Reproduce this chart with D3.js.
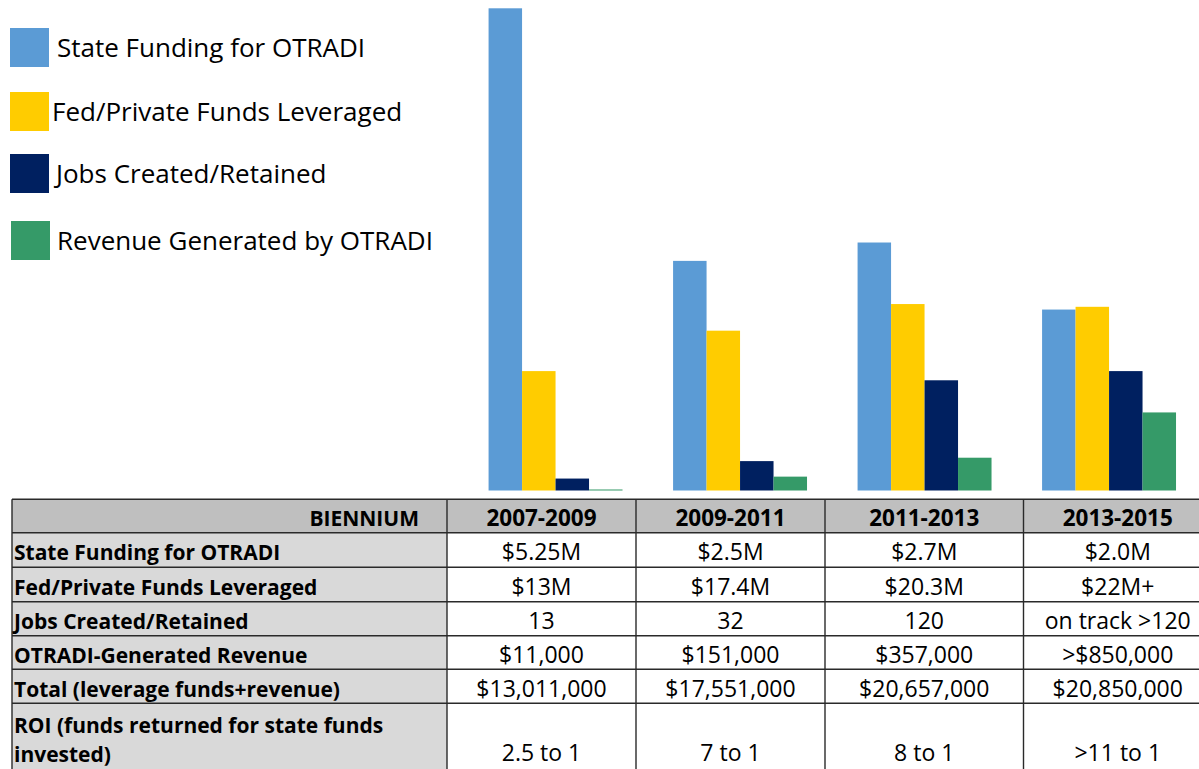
<!DOCTYPE html>
<html>
<head>
<meta charset="utf-8">
<script src="https://cdn.jsdelivr.net/npm/d3@7"></script>
<style>
  html, body { margin: 0; padding: 0; background: #fff; }
  svg { display: block; }
  text { font-family: "Open Sans", "Noto Sans", sans-serif; }
</style>
</head>
<body>
<svg id="chart" width="1199" height="769"></svg>
<script>
// ---- data ----
const bienniums = ["2007-2009", "2009-2011", "2011-2013", "2013-2015"];
const seriesNames = ["State Funding for OTRADI", "Fed/Private Funds Leveraged", "Jobs Created/Retained", "Revenue Generated by OTRADI"];
const seriesColors = ["#5B9BD5", "#FFCC00", "#002060", "#359A68"];
// bar heights in chart units
const stateFunding = [5.25, 2.5, 2.7, 1.97];
const fedPrivate   = [1.3, 1.74, 2.03, 2.0];
const jobs         = [0.13, 0.32, 1.2, 1.3];
const revenue      = [0.011, 0.151, 0.357, 0.85];

// table
const tableHeader = "BIENNIUM";
const rowLabels = ["State Funding for OTRADI", "Fed/Private Funds Leveraged", "Jobs Created/Retained",
                   "OTRADI-Generated Revenue", "Total (leverage funds+revenue)",
                   ["ROI (funds returned for state funds", "invested)"]];
const rowValues = [
  ["$5.25M", "$2.5M", "$2.7M", "$2.0M"],
  ["$13M", "$17.4M", "$20.3M", "$22M+"],
  ["13", "32", "120", "on track >120"],
  ["$11,000", "$151,000", "$357,000", ">$850,000"],
  ["$13,011,000", "$17,551,000", "$20,657,000", "$20,850,000"],
  ["2.5 to 1", "7 to 1", "8 to 1", ">11 to 1"]
];

const seriesData = [stateFunding, fedPrivate, jobs, revenue];

const svg = d3.select("#chart");

// ---- bars ----
const x0 = d3.scaleBand().domain(bienniums).range([463.3, 1201.3]).paddingInner(0.274).paddingOuter(0.137);
const x1 = d3.scaleBand().domain(d3.range(seriesNames.length)).range([0, x0.bandwidth()]).padding(0);
const y = d3.scaleLinear().domain([0, 5.25]).range([490.5, 8.3]);

const groups = svg.append("g").selectAll("g")
  .data(bienniums).join("g")
  .attr("transform", d => `translate(${x0(d)},0)`);

groups.selectAll("rect")
  .data((d, i) => seriesData.map((s, k) => ({k, v: s[i]})))
  .join("rect")
  .attr("x", d => x1(d.k))
  .attr("width", x1.bandwidth())
  .attr("y", d => y(d.v))
  .attr("height", d => y(0) - y(d.v))
  .attr("fill", d => seriesColors[d.k]);

// ---- legend ----
const legendY = [28, 92, 154, 221];
const legendTextX = [57, 52, 56, 57];
const legend = svg.append("g");
seriesNames.forEach((name, i) => {
  legend.append("rect").attr("x", i === 3 ? 11 : 10).attr("y", legendY[i]).attr("width", 39).attr("height", 39).attr("fill", seriesColors[i]);
  legend.append("text").attr("x", legendTextX[i]).attr("y", legendY[i] + 28.7)
    .attr("font-size", 26).attr("fill", "#000").text(name);
});

// ---- table ----
const colX = [12, 447, 636, 825, 1023.5, 1212];
const rowY = [499.3, 532.7, 567.3, 601.7, 635.7, 669.3, 703.3, 790];
const table = svg.append("g");

// backgrounds
table.append("rect").attr("x", colX[0]).attr("y", rowY[0]).attr("width", colX[5] - colX[0]).attr("height", rowY[1] - rowY[0]).attr("fill", "#BFBFBF");
table.append("rect").attr("x", colX[0]).attr("y", rowY[1]).attr("width", colX[1] - colX[0]).attr("height", rowY[7] - rowY[1]).attr("fill", "#D9D9D9");

// grid lines
rowY.slice(0, 7).forEach(yy => {
  table.append("line").attr("x1", colX[0]).attr("x2", colX[5]).attr("y1", yy).attr("y2", yy)
    .attr("stroke", "#2a2a2a").attr("stroke-width", 1.4);
});
colX.slice(0, 5).forEach(xx => {
  table.append("line").attr("x1", xx).attr("x2", xx).attr("y1", rowY[0]).attr("y2", rowY[7])
    .attr("stroke", "#2a2a2a").attr("stroke-width", 1.4);
});

const fsLabel = 21;
const fsHead = 22.5;
const fsVal = 23;
// header
table.append("text").attr("x", colX[1] - 28).attr("y", rowY[0] + 26.5).attr("text-anchor", "end")
  .attr("font-weight", "bold").attr("font-size", fsLabel).text(tableHeader);
bienniums.forEach((b, j) => {
  table.append("text").attr("x", (colX[j + 1] + colX[j + 2]) / 2).attr("y", rowY[0] + 26.5)
    .attr("text-anchor", "middle").attr("font-weight", "bold").attr("font-size", fsHead).text(b);
});
// rows
rowLabels.forEach((lab, r) => {
  const base = rowY[r + 1] + 27.5;
  if (Array.isArray(lab)) {
    lab.forEach((l, li) => {
      table.append("text").attr("x", 14).attr("y", rowY[r + 1] + 29.5 + li * 29.5)
        .attr("font-weight", "bold").attr("font-size", fsLabel).text(l);
    });
    rowValues[r].forEach((v, j) => {
      table.append("text").attr("x", (colX[j + 1] + colX[j + 2]) / 2).attr("y", rowY[r + 1] + 58)
        .attr("text-anchor", "middle").attr("font-size", fsVal).text(v);
    });
  } else {
    table.append("text").attr("x", 14).attr("y", base)
      .attr("font-weight", "bold").attr("font-size", fsLabel).text(lab);
    rowValues[r].forEach((v, j) => {
      table.append("text").attr("x", (colX[j + 1] + colX[j + 2]) / 2).attr("y", base)
        .attr("text-anchor", "middle").attr("font-size", fsVal).text(v);
    });
  }
});
</script>
</body>
</html>
